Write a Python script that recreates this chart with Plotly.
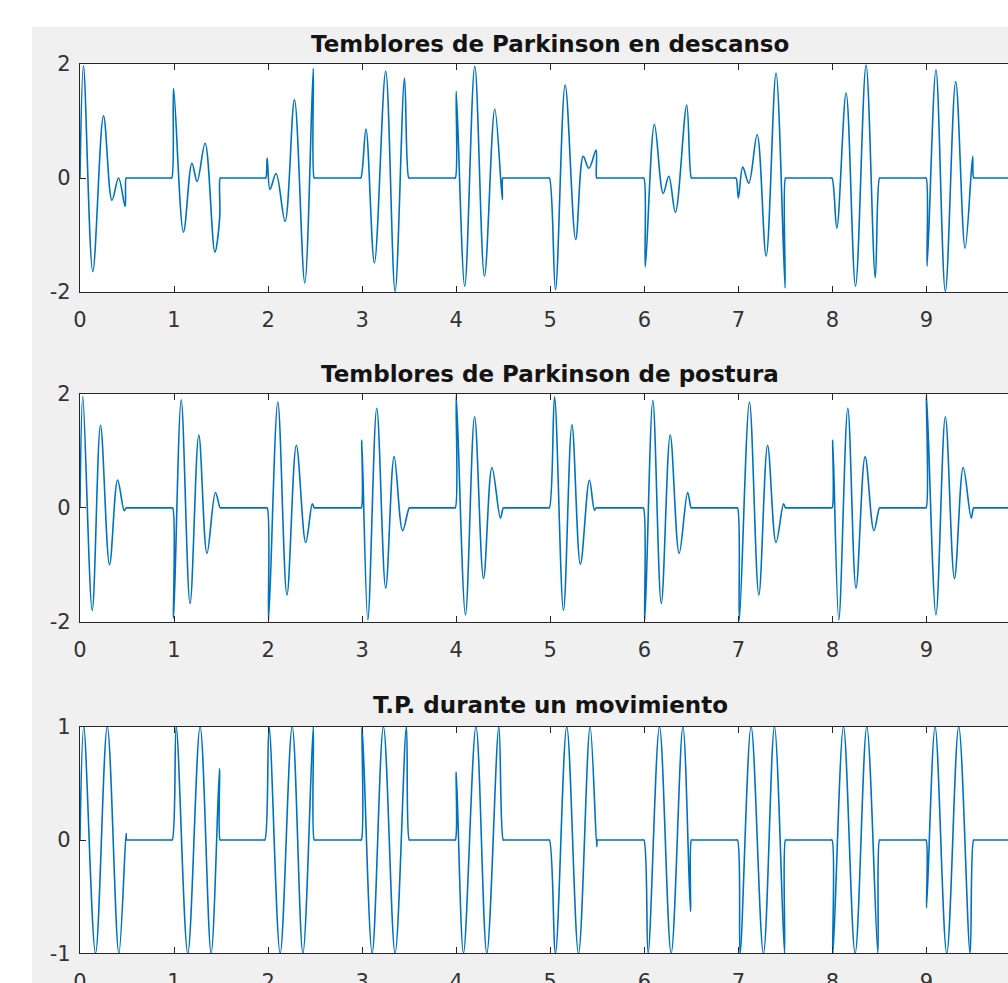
import plotly.graph_objects as go

# ---------------- data ----------------
t_descanso = [0, 0.037, 0.136, 0.25, 0.34, 0.41, 0.48, 0.49,
              0.5, 0.51, 0.96, 0.975,
              0.995, 1.10, 1.19, 1.245, 1.33, 1.434, 1.485, 1.49,
              1.5, 1.51, 1.96, 1.975,
              1.99, 2.02, 2.085, 2.18, 2.28, 2.39, 2.48, 2.49,
              2.5, 2.51, 2.97, 2.985,
              3.04, 3.13, 3.25, 3.35, 3.45, 3.495,
              3.505, 3.515, 3.975, 3.99,
              4.0, 4.09, 4.197, 4.30, 4.41, 4.49, 4.495,
              4.505, 4.515, 4.975, 4.99,
              5.055, 5.158, 5.27, 5.35, 5.41, 5.487, 5.492,
              5.5, 5.51, 5.98, 5.995,
              6.01, 6.107, 6.2, 6.26, 6.33, 6.45, 6.5,
              6.51, 6.52, 6.96, 6.975,
              7.0, 7.046, 7.11, 7.199, 7.295, 7.40, 7.496, 7.5,
              7.51, 7.52, 7.98, 7.995,
              8.046, 8.145, 8.245, 8.357, 8.455, 8.5,
              8.51, 8.52, 8.98, 8.995,
              9.006, 9.1, 9.2, 9.31, 9.41, 9.49, 9.5,
              9.51, 9.52, 10.0]
y_descanso = [0, 1.97, -1.64, 1.09, -0.39, 0.0, -0.5, 0,
              0, 0, 0, 0,
              1.57, -0.95, 0.26, -0.06, 0.61, -1.30, -0.7, 0,
              0, 0, 0, 0,
              0.35, -0.2, 0.08, -0.76, 1.37, -1.84, 1.92, 0,
              0, 0, 0, 0,
              0.86, -1.49, 1.87, -1.99, 1.75, 0,
              0, 0, 0, 0,
              1.52, -1.9, 1.96, -1.72, 1.21, -0.38, 0,
              0, 0, 0, 0,
              -1.96, 1.63, -1.08, 0.38, 0.17, 0.49, 0,
              0, 0, 0, 0,
              -1.56, 0.94, -0.27, 0.03, -0.6, 1.28, 0,
              0, 0, 0, 0,
              -0.35, 0.19, -0.09, 0.76, -1.37, 1.84, -1.93, 0,
              0, 0, 0, 0,
              -0.88, 1.49, -1.9, 1.98, -1.75, 0,
              0, 0, 0, 0,
              -1.55, 1.9, -1.99, 1.69, -1.23, 0.38, 0,
              0, 0, 0]

t_postura = [0, 0.03, 0.13, 0.218, 0.314, 0.40, 0.47, 0.49,
             0.5, 0.51, 0.97, 0.985,
             0.995, 1.076, 1.17, 1.263, 1.35, 1.44, 1.49,
             1.5, 1.51, 1.975, 1.99,
             2.005, 2.103, 2.2, 2.3, 2.4, 2.47, 2.49,
             2.5, 2.51, 2.975, 2.99,
             2.996, 3.06, 3.155, 3.25, 3.34, 3.43, 3.5,
             3.51, 3.52, 3.975, 3.99,
             4.0, 4.098, 4.195, 4.29, 4.38, 4.47, 4.5,
             4.51, 4.52, 4.975, 4.99,
             5.045, 5.14, 5.23, 5.32, 5.416, 5.47, 5.49,
             5.5, 5.51, 5.975, 5.99,
             6.005, 6.09, 6.18, 6.275, 6.37, 6.46, 6.497,
             6.505, 6.515, 6.975, 6.99,
             7.01, 7.117, 7.217, 7.31, 7.4, 7.48, 7.5,
             7.51, 7.52, 7.98, 7.995,
             8.003, 8.067, 8.163, 8.25, 8.347, 8.44, 8.5,
             8.51, 8.52, 8.98, 8.995,
             9.0, 9.1, 9.2, 9.297, 9.39, 9.475, 9.5,
             9.51, 9.52, 10.0]
y_postura = [0, 1.96, -1.8, 1.45, -1.0, 0.49, -0.05, 0,
             0, 0, 0, 0,
             -1.94, 1.9, -1.68, 1.28, -0.8, 0.27, 0,
             0, 0, 0, 0,
             -1.97, 1.86, -1.53, 1.1, -0.61, 0.07, 0,
             0, 0, 0, 0,
             1.19, -1.97, 1.75, -1.41, 0.9, -0.4, 0,
             0, 0, 0, 0,
             1.98, -1.88, 1.6, -1.24, 0.71, -0.18, 0,
             0, 0, 0, 0,
             1.95, -1.8, 1.46, -0.99, 0.49, -0.04, 0,
             0, 0, 0, 0,
             -1.97, 1.89, -1.68, 1.28, -0.8, 0.27, 0,
             0, 0, 0, 0,
             -1.97, 1.86, -1.53, 1.1, -0.61, 0.07, 0,
             0, 0, 0, 0,
             1.19, -1.97, 1.75, -1.41, 0.9, -0.4, 0,
             0, 0, 0, 0,
             1.98, -1.88, 1.6, -1.24, 0.71, -0.18, 0,
             0, 0, 0]

t_movimiento = [0, 0.04, 0.165, 0.29, 0.413, 0.49, 0.495,
                0.5, 0.51, 0.965, 0.98,
                1.023, 1.146, 1.277, 1.394, 1.483, 1.49,
                1.5, 1.51, 1.95, 1.965,
                2.01, 2.128, 2.256, 2.37, 2.48, 2.49,
                2.5, 2.51, 2.975, 2.99,
                3.0, 3.106, 3.226, 3.35, 3.47, 3.5,
                3.51, 3.52, 3.975, 3.99,
                4.0, 4.077, 4.21, 4.325, 4.453, 4.5,
                4.51, 4.52, 4.975, 4.99,
                5.055, 5.175, 5.3, 5.423, 5.494, 5.5,
                5.51, 5.52, 5.98, 5.995,
                6.04, 6.161, 6.285, 6.41, 6.49, 6.5,
                6.51, 6.52, 6.975, 6.99,
                7.018, 7.135, 7.266, 7.383, 7.49, 7.5,
                7.51, 7.52, 7.98, 7.995,
                8.005, 8.117, 8.241, 8.365, 8.482, 8.5,
                8.51, 8.52, 8.98, 8.995,
                9.0, 9.091, 9.215, 9.342, 9.463, 9.5,
                9.51, 9.52, 10.0]
y_movimiento = [0, 1, -1, 1, -1, 0.06, 0,
                0, 0, 0, 0,
                1, -1, 1, -1, 0.63, 0,
                0, 0, 0, 0,
                1, -1, 1, -1, 1, 0,
                0, 0, 0, 0,
                1, -1, 1, -1, 1, 0,
                0, 0, 0, 0,
                0.6, -1, 1, -1, 1, 0,
                0, 0, 0, 0,
                -1, 1, -1, 1, -0.06, 0,
                0, 0, 0, 0,
                -1, 1, -1, 1, -0.63, 0,
                0, 0, 0, 0,
                -1, 1, -1, 1, -1, 0,
                0, 0, 0, 0,
                -1, 1, -1, 1, -1, 0,
                0, 0, 0, 0,
                -0.6, 1, -1, 1, -1, 0,
                0, 0, 0]

titles = ["Temblores de Parkinson en descanso",
          "Temblores de Parkinson de postura",
          "T.P. durante un movimiento"]
x_ticks = [0, 1, 2, 3, 4, 5, 6, 7, 8, 9, 10]
x_ticktext = ["0", "1", "2", "3", "4", "5", "6", "7", "8", "9", "10"]
y_ticks_12 = [-2, 0, 2]
y_ticktext_12 = ["-2", "0", "2"]
y_ticks_3 = [-1, 0, 1]
y_ticktext_3 = ["-1", "0", "1"]

# ---------------- layout geometry (page pixels) ----------------
W, H = 1008, 983
ML = 80
PW = W - ML
px_per_unit = 94.06
x_max = PW / px_per_unit
panel_px = [(64, 292), (394, 621.7), (726.7, 953.3)]
title_px = [44, 374, 705]

LINE = "#0072BD"
AX = "#262626"
TICKC = "#333333"

fig = go.Figure()
series = [(t_descanso, y_descanso), (t_postura, y_postura), (t_movimiento, y_movimiento)]
for i, (tt, yy) in enumerate(series):
    fig.add_trace(go.Scatter(
        x=tt, y=yy, mode="lines",
        line=dict(color=LINE, width=1.6, shape="spline", smoothing=1.0),
        xaxis="x" if i == 0 else f"x{i+1}",
        yaxis="y" if i == 0 else f"y{i+1}",
        showlegend=False, hoverinfo="skip"))

common_x = dict(range=[0, x_max], tickvals=x_ticks, ticktext=x_ticktext,
                ticks="inside", ticklen=6,
                tickwidth=1, tickcolor=AX, showline=True, linecolor=AX, linewidth=1.2,
                mirror="ticks", showgrid=False, zeroline=False, automargin=False,
                tickfont=dict(family="DejaVu Sans", size=21, color=TICKC),
                ticklabelstandoff=9)
common_y = dict(ticks="inside", ticklen=6, tickwidth=1, tickcolor=AX,
                showline=True, linecolor=AX, linewidth=1.2, mirror=False,
                showgrid=False, zeroline=False, automargin=False,
                tickfont=dict(family="DejaVu Sans", size=21, color=TICKC),
                ticklabelstandoff=4)

layout = dict(width=W, height=H, margin=dict(l=ML, r=0, t=0, b=0, autoexpand=False),
              paper_bgcolor="#f0f0f0", plot_bgcolor="white", showlegend=False)
for i, (top, bot) in enumerate(panel_px):
    sfx = "" if i == 0 else str(i + 1)
    dom = [1 - bot / H, 1 - top / H]
    xa = dict(common_x, domain=[0, 1], anchor="y" + sfx)
    ya = dict(common_y, domain=dom, anchor="x" + sfx)
    if i < 2:
        ya.update(range=[-2, 2], tickvals=y_ticks_12, ticktext=y_ticktext_12)
    else:
        ya.update(range=[-1, 1], tickvals=y_ticks_3, ticktext=y_ticktext_3)
    layout["xaxis" + sfx] = xa
    layout["yaxis" + sfx] = ya
fig.update_layout(**layout)

for i, ty in enumerate(title_px):
    fig.add_annotation(text="<b>" + titles[i] + "</b>", xref="x" if i == 0 else f"x{i+1}",
                       x=5, yref="paper", y=1 - ty / H, yanchor="middle",
                       xanchor="center", showarrow=False,
                       font=dict(family="DejaVu Sans", size=23, color="#141414"))

# white strips left of and above the grey figure area
fig.add_shape(type="rect", xref="paper", yref="paper",
              x0=(0 - ML) / PW, x1=(32 - ML) / PW, y0=0, y1=1,
              fillcolor="white", line_width=0, layer="above")
fig.add_shape(type="rect", xref="paper", yref="paper",
              x0=(0 - ML) / PW, x1=1, y0=1 - 27 / H, y1=1,
              fillcolor="white", line_width=0, layer="above")

fig.write_html("out.html",
               config={"displayModeBar": False},
               post_script="document.body.style.margin='0px';document.body.style.overflow='hidden';")
